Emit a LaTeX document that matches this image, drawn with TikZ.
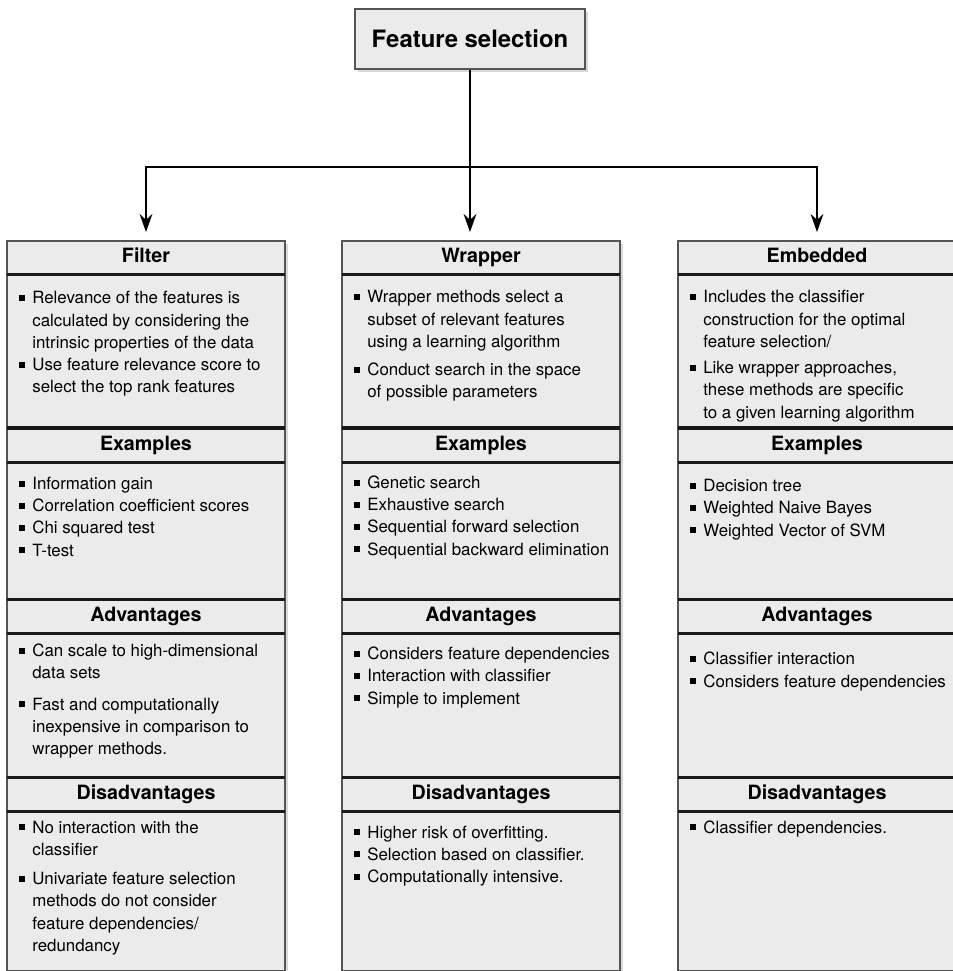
\documentclass[tikz,border=0pt]{standalone}
\usepackage{fontspec}
\setmainfont{TeX Gyre Heros}
\usetikzlibrary{arrows.meta,positioning,shadows}

\definecolor{boxgray}{HTML}{EBEBEB}
\definecolor{rimgray}{HTML}{555555}
\newcommand{\sq}{\rule[2pt]{4.3pt}{4.3pt}}
\newenvironment{blist}{\begin{tabular}{@{}l@{\hspace{5.2pt}}l@{}}}{\end{tabular}}

\begin{document}
\begin{tikzpicture}[>={Stealth[length=0.45cm,width=0.32cm]},
colbox/.style={draw=rimgray,line width=1.3pt,fill=boxgray,minimum width=6.95cm,minimum height=18.25cm,anchor=north,
  drop shadow={opacity=0.3,shadow xshift=0.07cm,shadow yshift=-0.07cm}},
topbox/.style={draw=rimgray,line width=1.3pt,fill=boxgray,minimum width=5.75cm,minimum height=1.5cm,
  font=\fontsize{17}{20}\selectfont\bfseries,drop shadow={opacity=0.3,shadow xshift=0.07cm,shadow yshift=-0.07cm}},
head/.style={minimum width=6.95cm,minimum height=0.85cm,anchor=north,inner sep=0pt,text height=10pt,text depth=3pt,
  font=\fontsize{14}{16}\selectfont\bfseries},
txt/.style={anchor=north west,inner sep=0pt,font=\fontsize{12}{15.8}\selectfont},
sep/.style={line width=2.3pt,draw=black!90},
flow/.style={->,line width=1.5pt,shorten >=0.2cm}]
\useasboundingbox (0,0) rectangle (23.8,-24.275);
\node[topbox] (fs) at (11.75,-0.975) {Feature selection};
% three columns with their section headers
\foreach \col/\x/\ttl in {filt/3.65/Filter,wrap/12.025/Wrapper,emb/20.425/Embedded}{
  \node[colbox] (\col) at (\x,-6.0) {};
  \node[head] (\col-t) at (\x,-6.0) {\ttl};
  \node[head] (\col-ex) at (\x,-10.7) {Examples};
  \node[head] (\col-adv) at (\x,-14.98) {Advantages};
  \node[head] (\col-dis) at (\x,-19.43) {Disadvantages};
  \draw[sep] (\col-t.south west) -- (\col-t.south east);
  \foreach \h in {ex,adv,dis}{
    \draw[sep] (\col-\h.north west) -- (\col-\h.north east);
    \draw[sep] (\col-\h.south west) -- (\col-\h.south east);
  }
}
% filter
\node[txt] (filt-tb) at ([xshift=0.3cm,yshift=-0.34cm]filt-t.south west) {\begin{blist}
\sq & Relevance of the features is\\
 & calculated by considering the\\
 & intrinsic properties of the data\\
\sq & Use feature relevance score to\\
 & select the top rank features
\end{blist}};
\node[txt] (filt-exb) at ([xshift=0.3cm,yshift=-0.275cm]filt-ex.south west) {\begin{blist}
\sq & Information gain\\
\sq & Correlation coefficient scores\\
\sq & Chi squared test\\
\sq & T-test
\end{blist}};
\node[txt] (filt-advb) at ([xshift=0.3cm,yshift=-0.175cm]filt-adv.south west) {\begin{blist}
\sq & Can scale to high-dimensional\\
 & data sets\\[6.5pt]
\sq & Fast and computationally\\
 & inexpensive in comparison to\\
 & wrapper methods.
\end{blist}};
\node[txt] (filt-disb) at ([xshift=0.3cm,yshift=-0.14cm]filt-dis.south west) {\begin{blist}
\sq & No interaction with the\\
 & classifier\\[5pt]
\sq & Univariate feature selection\\
 & methods do not consider\\
 & feature dependencies/\\
 & redundancy
\end{blist}};
% wrapper
\node[txt] (wrap-tb) at ([xshift=0.3cm,yshift=-0.31cm]wrap-t.south west) {\begin{blist}
\sq & Wrapper methods select a\\
 & subset of relevant features\\
 & using a learning algorithm\\[4.5pt]
\sq & Conduct search in the space\\
 & of possible parameters
\end{blist}};
\node[txt] (wrap-exb) at ([xshift=0.3cm,yshift=-0.25cm]wrap-ex.south west) {\begin{blist}
\sq & Genetic search\\
\sq & Exhaustive search\\
\sq & Sequential forward selection\\
\sq & Sequential backward elimination
\end{blist}};
\node[txt] (wrap-advb) at ([xshift=0.3cm,yshift=-0.25cm]wrap-adv.south west) {\begin{blist}
\sq & Considers feature dependencies\\
\sq & Interaction with classifier\\
\sq & Simple to implement
\end{blist}};
\node[txt] (wrap-disb) at ([xshift=0.3cm,yshift=-0.26cm]wrap-dis.south west) {\begin{blist}
\sq & Higher risk of overfitting.\\
\sq & Selection based on classifier.\\
\sq & Computationally intensive.
\end{blist}};
% embedded
\node[txt] (emb-tb) at ([xshift=0.3cm,yshift=-0.31cm]emb-t.south west) {\begin{blist}
\sq & Includes the classifier\\
 & construction for the optimal\\
 & feature selection/\\[3pt]
\sq & Like wrapper approaches,\\
 & these methods are specific\\
 & to a given learning algorithm
\end{blist}};
\node[txt] (emb-exb) at ([xshift=0.3cm,yshift=-0.33cm]emb-ex.south west) {\begin{blist}
\sq & Decision tree\\
\sq & Weighted Naive Bayes\\
\sq & Weighted Vector of SVM
\end{blist}};
\node[txt] (emb-advb) at ([xshift=0.3cm,yshift=-0.38cm]emb-adv.south west) {\begin{blist}
\sq & Classifier interaction\\
\sq & Considers feature dependencies
\end{blist}};
\node[txt] (emb-disb) at ([xshift=0.3cm,yshift=-0.14cm]emb-dis.south west) {\begin{blist}
\sq & Classifier dependencies.
\end{blist}};
% connectors
\coordinate[below=2.425cm of fs.south] (split);
\draw[flow] (fs.south) -- (fs.south |- wrap-t.north);
\draw[flow] (split) -| (filt-t.north);
\draw[flow] (split) -| (emb-t.north);
\end{tikzpicture}
\end{document}
